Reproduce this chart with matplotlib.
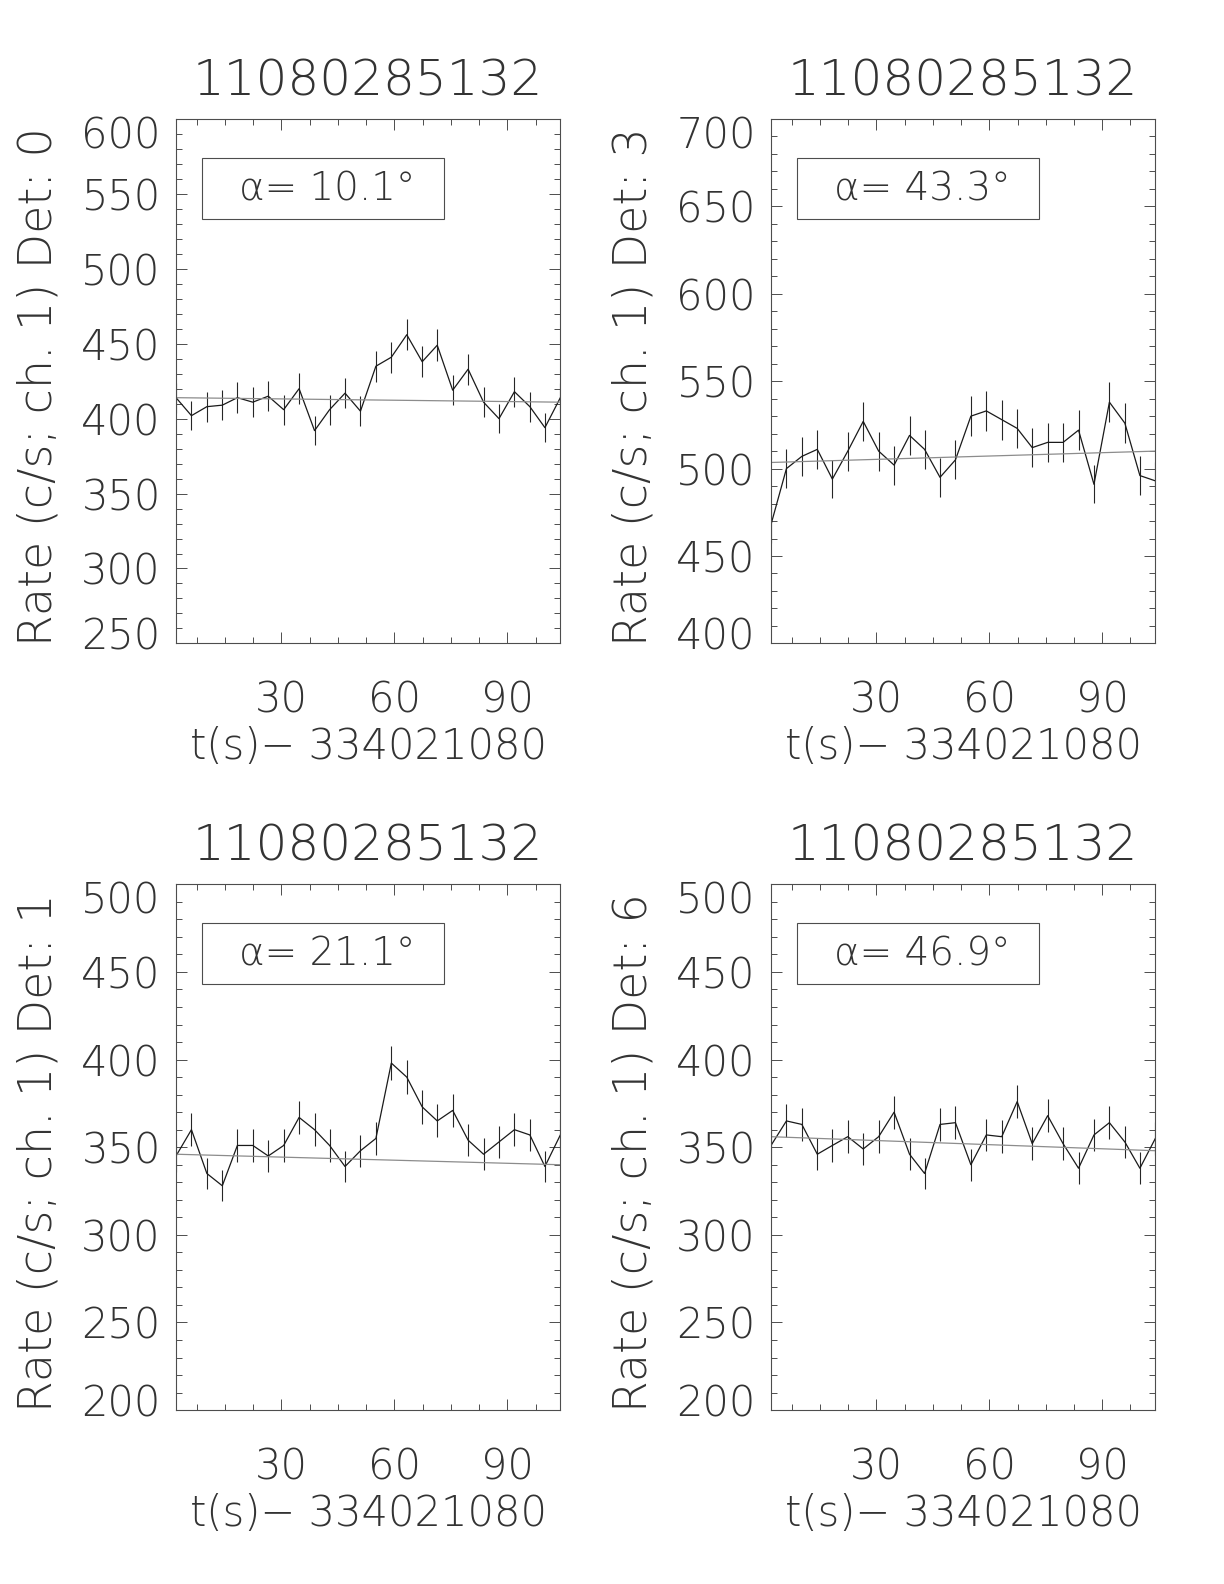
import matplotlib
matplotlib.use('Agg')
import matplotlib.pyplot as plt
from matplotlib.patches import Rectangle
from matplotlib.ticker import MultipleLocator
from matplotlib.transforms import ScaledTranslation
import numpy as np

# bin times (s) relative to 334021080
t = [2.0, 6.1, 10.2, 14.3, 18.3, 22.4, 26.5, 30.6, 34.7, 38.8, 42.8, 46.9, 51.0,
     55.1, 59.2, 63.3, 67.4, 71.4, 75.5, 79.6, 83.7, 87.8, 91.9, 96.0, 100.0, 104.1]

rate_det0 = [414, 402, 408, 409, 414, 411, 415, 406, 420, 392, 406, 417, 405,
             435, 441, 456, 438, 449, 419, 433, 411, 400, 418, 408, 394, 414]
rate_det3 = [468, 500, 507, 511, 494, 510, 527, 510, 502, 519, 511, 495, 505,
             530, 533, 528, 523, 512, 515, 515, 522, 491, 538, 526, 496, 493]
rate_det1 = [345, 360, 335, 328, 351, 351, 345, 351, 367, 360, 351, 339, 348,
             355, 398, 390, 373, 365, 371, 354, 346, 353, 360, 357, 339, 357]
rate_det6 = [351, 365, 363, 346, 351, 356, 349, 356, 370, 346, 335, 363, 364,
             340, 357, 356, 376, 352, 368, 352, 338, 357, 364, 353, 338, 355]

err_det0 = [10.1, 9.9, 10.1, 10.1, 10.2, 10.1, 10.2, 10.0, 10.2, 9.8, 10.0, 10.1, 10.0,
            10.3, 10.4, 10.5, 10.3, 10.5, 10.1, 10.3, 10.1, 9.9, 10.1, 10.0, 9.8, 10.1]
err_det3 = [10.7, 11.1, 11.1, 11.2, 11.0, 11.2, 11.3, 11.2, 11.1, 11.3, 11.2, 11.0, 11.1,
            11.4, 11.4, 11.4, 11.3, 11.2, 11.2, 11.2, 11.3, 10.9, 11.5, 11.3, 11.0, 11.0]
err_det1 = [9.2, 9.4, 9.0, 8.9, 9.3, 9.3, 9.2, 9.3, 9.5, 9.4, 9.3, 9.1, 9.2,
            9.3, 9.9, 9.8, 9.5, 9.4, 9.5, 9.3, 9.2, 9.3, 9.4, 9.3, 9.1, 9.3]
err_det6 = [9.3, 9.4, 9.4, 9.2, 9.3, 9.3, 9.2, 9.3, 9.5, 9.2, 9.0, 9.4, 9.4,
            9.1, 9.3, 9.3, 9.6, 9.3, 9.5, 9.3, 9.1, 9.3, 9.4, 9.3, 9.1, 9.3]

# background fit: value at first and last bin
fit_det0 = [414, 411]
fit_det3 = [503.5, 510]
fit_det1 = [346, 340]
fit_det6 = [356, 348]

dets = ['0', '3', '1', '6']
angles = ['10.1', '43.3', '21.1', '46.9']
ylims = [(250, 600), (400, 700), (200, 500), (200, 500)]
rates = [rate_det0, rate_det3, rate_det1, rate_det6]
errs = [err_det0, err_det3, err_det1, err_det6]
fits = [fit_det0, fit_det3, fit_det1, fit_det6]
title = '11080285132'
t0 = '334021080'

plt.rcParams['font.family'] = ['DejaVu Sans']
plt.rcParams['font.weight'] = 'ultralight'
txtcol = '0.2'
axcol = '0.3'

fig = plt.figure(figsize=(12.24, 15.84), dpi=100)
positions = [(0.1438, 0.5938, 0.3140, 0.3311),
             (0.6299, 0.5938, 0.3140, 0.3311),
             (0.1438, 0.1098, 0.3140, 0.3319),
             (0.6299, 0.1098, 0.3140, 0.3319)]

for i in range(4):
    ax = fig.add_axes(positions[i])
    ax.errorbar(t, rates[i], yerr=errs[i], fmt='none', ecolor='0.15', elinewidth=0.8, capsize=0)
    ax.plot(t, rates[i], color='0.1', lw=0.9)
    ax.plot([t[0], t[-1]], fits[i], color='0.55', lw=0.9)
    ax.set_xlim(t[0], t[-1])
    ax.set_ylim(*ylims[i])
    ax.xaxis.set_major_locator(MultipleLocator(30))
    ax.xaxis.set_minor_locator(MultipleLocator(7.5))
    ax.set_yticks(np.arange(ylims[i][0], ylims[i][1] + 1, 50))
    ax.yaxis.set_minor_locator(MultipleLocator(10))
    ax.tick_params(which='both', direction='in', top=True, right=True, colors=axcol,
                   labelcolor=txtcol, labelsize=30, width=0.7)
    ax.tick_params(which='major', length=8)
    ax.tick_params(which='minor', length=4)
    ax.tick_params(axis='x', pad=26)
    ax.tick_params(axis='y', pad=11)
    # end labels pulled inside the axis range
    labels = ax.get_yticklabels()
    labels[0].set_transform(labels[0].get_transform()
                            + ScaledTranslation(0, 0.10, fig.dpi_scale_trans))
    labels[-1].set_transform(labels[-1].get_transform()
                             + ScaledTranslation(0, -0.13, fig.dpi_scale_trans))
    for s in ax.spines.values():
        s.set_color(axcol)
        s.set_linewidth(0.8)
    ax.set_title(title, fontsize=36, color=txtcol, pad=17, fontweight='ultralight')
    ax.set_xlabel('t(s)\u2212 ' + t0, fontsize=30, color=txtcol, fontweight='ultralight')
    ax.xaxis.set_label_coords(0.5, -0.158)
    ax.set_ylabel('Rate (c/s; ch. 1) Det: ' + dets[i], fontsize=33, color=txtcol,
                  fontweight='ultralight')
    ax.yaxis.set_label_coords(-0.30, 0.49)
    ax.add_patch(Rectangle((0.067, 0.81), 0.63, 0.116, transform=ax.transAxes,
                           fill=False, edgecolor=axcol, lw=0.8))
    ax.text(0.165, 0.866, '\u03b1= ' + angles[i] + '\u00b0', transform=ax.transAxes,
            fontsize=28, color=txtcol, ha='left', va='center', fontweight='ultralight')

fig.savefig('out.png', dpi=100)
